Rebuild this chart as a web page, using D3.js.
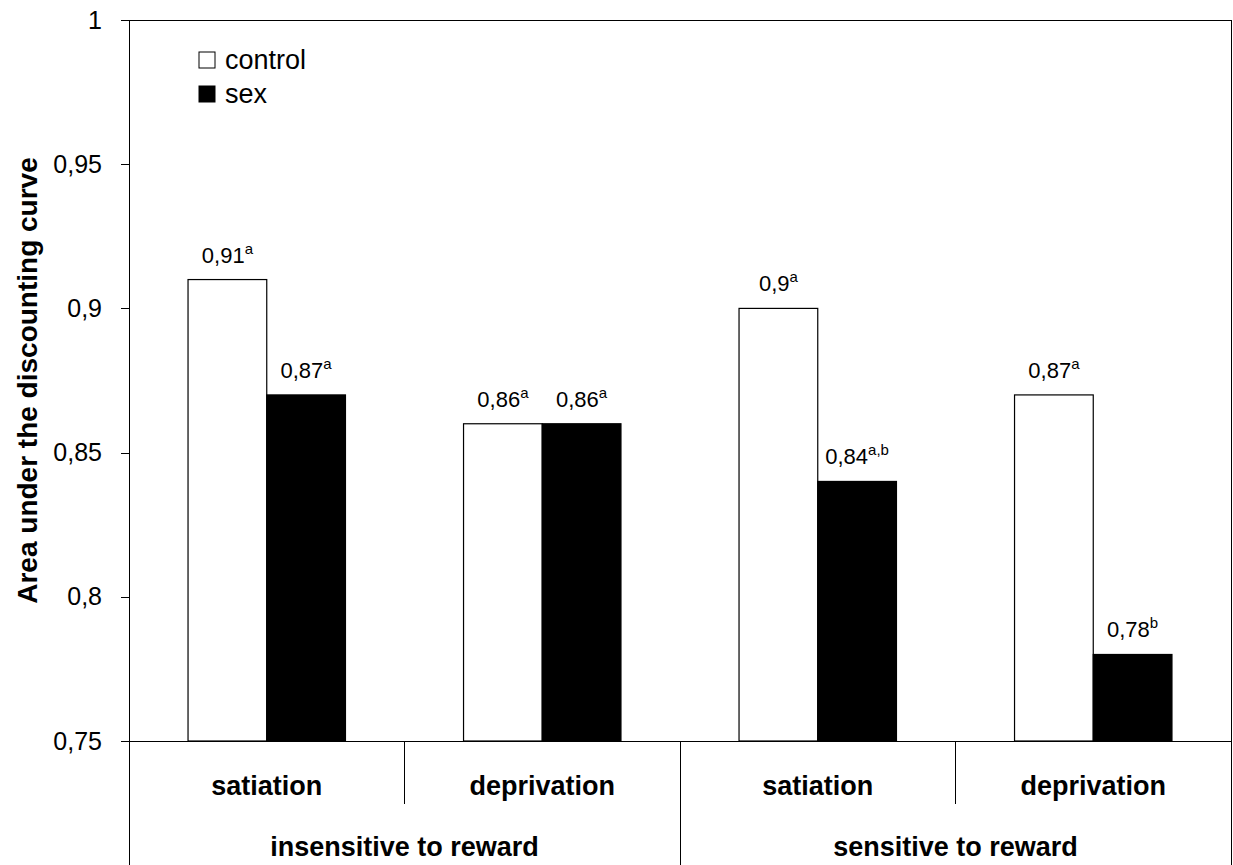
<!DOCTYPE html>
<html>
<head>
<meta charset="utf-8">
<script src="https://cdn.jsdelivr.net/npm/d3@7"></script>
<style>
  html, body { margin: 0; padding: 0; background: #fff; }
  svg { display: block; }
  text { font-family: Arial, "Liberation Sans", sans-serif; fill: #000; }
</style>
</head>
<body>
<svg id="chart" width="1233" height="865"></svg>
<script>
// Subcategories along the x axis and the groups they belong to
const categories = ["satiation", "deprivation", "satiation", "deprivation"];
const groups = ["insensitive to reward", "sensitive to reward"];
const series = ["control", "sex"];

// Area under the discounting curve per condition
const controlValues = [0.91, 0.86, 0.90, 0.87];
const sexValues = [0.87, 0.86, 0.84, 0.78];

// Significance letters shown as superscripts
const controlLetters = ["a", "a", "a", "a"];
const sexLetters = ["a", "a", "a,b", "b"];

// Y-axis ticks and labels
const yTicks = [0.75, 0.8, 0.85, 0.9, 0.95, 1];
const yTickLabels = ["0,75", "0,8", "0,85", "0,9", "0,95", "1"];

const svg = d3.select("#chart");
const plotLeft = 129, plotRight = 1231, plotTop = 20, plotBottom = 741, svgH = 865;

const y = d3.scaleLinear().domain([0.75, 1]).range([plotBottom, plotTop]);
const x = d3.scaleBand().domain(d3.range(categories.length)).range([plotLeft, plotRight]).padding(0);
const xInner = d3.scaleBand().domain(series).range([0, x.bandwidth()])
  .paddingInner(0).paddingOuter(0.75);
const fill = d3.scaleOrdinal().domain(series).range(["#fff", "#000"]);

const rows = categories.map((c, i) => ({
  i,
  values: [
    { s: "control", v: controlValues[i], letter: controlLetters[i] },
    { s: "sex", v: sexValues[i], letter: sexLetters[i] }
  ]
}));

// Bars
const cat = svg.append("g").selectAll("g").data(rows).join("g")
  .attr("transform", d => `translate(${x(d.i)},0)`);

cat.selectAll("rect").data(d => d.values).join("rect")
  .attr("x", d => xInner(d.s))
  .attr("y", d => y(d.v))
  .attr("width", xInner.bandwidth())
  .attr("height", d => y(0.75) - y(d.v))
  .attr("fill", d => fill(d.s))
  .attr("stroke", "#000")
  .attr("stroke-width", 1.2);

// Value labels with superscript letters
const lab = cat.selectAll("text.val").data(d => d.values).join("text")
  .attr("class", "val")
  .attr("x", d => xInner(d.s) + xInner.bandwidth() / 2)
  .attr("y", d => y(d.v) - 17)
  .attr("text-anchor", "middle")
  .style("font-size", "22px");
lab.append("tspan").text(d => String(d.v).replace(".", ","));
lab.append("tspan").attr("dy", -9).style("font-size", "15px").text(d => d.letter);

// Y axis
const yAxis = d3.axisLeft(y).tickValues(yTicks)
  .tickFormat((d, i) => yTickLabels[i]).tickSize(8).tickPadding(19);
const ya = svg.append("g").attr("transform", `translate(${plotLeft},0)`).call(yAxis);
ya.select(".domain").remove();
ya.selectAll(".tick line").attr("stroke", "#000").attr("shape-rendering", "crispEdges");
ya.selectAll(".tick text").style("font-size", "25px")
  .style("font-family", 'Arial, "Liberation Sans", sans-serif').attr("fill", "#000");

// Frame lines
const lines = svg.append("g").attr("stroke", "#000").attr("stroke-width", 1)
  .attr("shape-rendering", "crispEdges");
lines.append("line").attr("x1", plotLeft).attr("x2", plotLeft).attr("y1", plotTop).attr("y2", svgH);
lines.append("line").attr("x1", plotRight).attr("x2", plotRight).attr("y1", plotTop).attr("y2", svgH);
lines.append("line").attr("x1", plotLeft).attr("x2", plotRight).attr("y1", plotTop).attr("y2", plotTop);
lines.append("line").attr("x1", plotLeft - 8).attr("x2", plotRight).attr("y1", plotBottom).attr("y2", plotBottom);

// Separators between subcategories (short) and groups (full height)
lines.selectAll("line.sep").data(d3.range(1, categories.length)).join("line")
  .attr("class", "sep")
  .attr("x1", d => x(d)).attr("x2", d => x(d))
  .attr("y1", plotBottom)
  .attr("y2", d => d % 2 === 0 ? svgH : 804);

// Category labels
svg.append("g").selectAll("text").data(categories).join("text")
  .attr("x", (d, i) => x(i) + x.bandwidth() / 2)
  .attr("y", 795)
  .attr("text-anchor", "middle")
  .style("font-size", "27px").style("font-weight", "bold")
  .text(d => d);

// Group labels
svg.append("g").selectAll("text").data(groups).join("text")
  .attr("x", (d, i) => x(i * 2) + x.bandwidth())
  .attr("y", 856)
  .attr("text-anchor", "middle")
  .style("font-size", "27px").style("font-weight", "bold")
  .text(d => d);

// Y-axis title
svg.append("text")
  .attr("transform", `translate(37,${(plotTop + plotBottom) / 2}) rotate(-90)`)
  .attr("text-anchor", "middle")
  .style("font-size", "28px").style("font-weight", "bold")
  .text("Area under the discounting curve");

// Legend
const legend = svg.append("g").attr("transform", "translate(199,52)");
const li = legend.selectAll("g").data(series).join("g")
  .attr("transform", (d, i) => `translate(0,${i * 34})`);
li.append("rect").attr("width", 16).attr("height", 16)
  .attr("fill", d => fill(d)).attr("stroke", "#000").attr("stroke-width", 1);
li.append("text").attr("x", 26).attr("y", 17)
  .style("font-size", "27px").text(d => d);
</script>
</body>
</html>
